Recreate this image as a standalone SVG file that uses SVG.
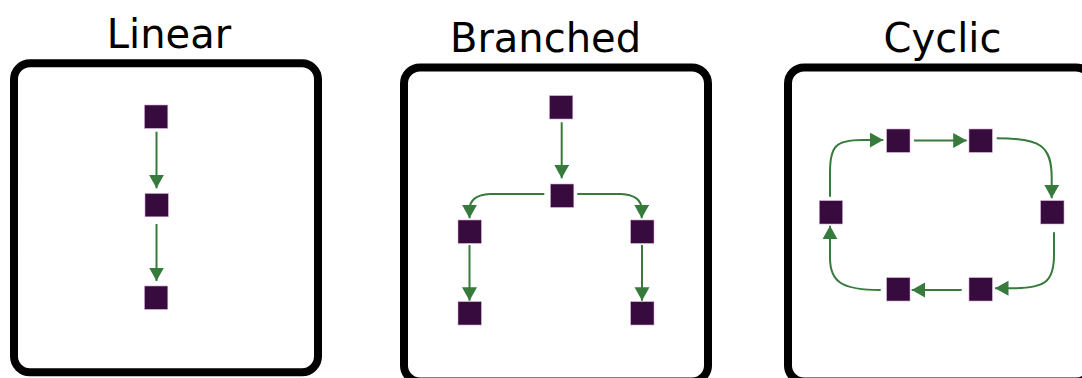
<svg xmlns="http://www.w3.org/2000/svg" width="1082" height="378" viewBox="0 0 1082 378">
<style>
.panel{fill:#fff;stroke:#000;stroke-width:8}
.title{font-family:"DejaVu Sans",Verdana,sans-serif;font-size:40px;fill:#000;text-anchor:middle}
.node{fill:#380b3f;stroke:#c9a6cb;stroke-width:0.6}
.edge{fill:none;stroke:#367a3c;stroke-width:2;marker-end:url(#ah)}
</style>
<defs>
<marker id="ah" markerUnits="userSpaceOnUse" markerWidth="15" markerHeight="16" refX="13.5" refY="7.5" orient="auto" viewBox="0 0 15 16">
<path d="M0,0 L13.5,7.5 L0,15 z" fill="#367a3c"/>
</marker>
</defs>
<rect x="0" y="0" width="1082" height="378" fill="#fff"/>
<g id="panel-linear">
<rect class="panel" x="14" y="63.3" width="304" height="309" rx="16"/>
<text class="title" x="169" y="48.3">Linear</text>
</g>
<g id="panel-branched">
<rect class="panel" x="404" y="67.5" width="304" height="314" rx="16"/>
<text class="title" x="545.5" y="51.7">Branched</text>
</g>
<g id="panel-cyclic">
<rect class="panel" x="788" y="67.5" width="304" height="314" rx="16"/>
<text class="title" x="942.5" y="51.7">Cyclic</text>
</g>
<g id="connectors">
<path class="edge" d="M156.5,131.7 L156.5,188.3"/>
<path class="edge" d="M156.5,224 L156.5,281"/>
<path class="edge" d="M561.7,122.3 L561.7,178.3"/>
<path class="edge" d="M544.3,194 L490,194 Q469.5,195 469.5,210 L469.5,218.3"/>
<path class="edge" d="M577.3,194 L621,194 Q641.7,195 641.7,210 L641.7,218.3"/>
<path class="edge" d="M469.5,245 L469.5,300.7"/>
<path class="edge" d="M642,245 L642,300.7"/>
<path class="edge" d="M914,140.5 L966.7,140.5"/>
<path class="edge" d="M996.7,138.3 C1040,138.3 1051.7,145 1051.7,178 L1051.7,198.3"/>
<path class="edge" d="M1054,232.3 L1054,255 C1054,282 1045,288.3 1012,288.3 L995,288.3"/>
<path class="edge" d="M961.7,290 L911.7,290"/>
<path class="edge" d="M880.7,290 C842,290 830,282 830,258 L830,225.7"/>
<path class="edge" d="M830,196.7 L830,172 C830,146 836,140 862,140 L883.3,140"/>
</g>
<g id="n-linear-1"><rect class="node" x="144.5" y="105" width="23.3" height="23.3"/></g>
<g id="n-linear-2"><rect class="node" x="145" y="193.5" width="23.3" height="23.3"/></g>
<g id="n-linear-3"><rect class="node" x="144.5" y="286" width="23.3" height="23.3"/></g>
<g id="n-branched-top"><rect class="node" x="549.5" y="95.7" width="23.3" height="23.3"/></g>
<g id="n-branched-mid"><rect class="node" x="550.5" y="184" width="23.3" height="23.3"/></g>
<g id="n-branched-left"><rect class="node" x="458" y="220" width="23.3" height="23.3"/></g>
<g id="n-branched-right"><rect class="node" x="630.7" y="220" width="23.3" height="23.3"/></g>
<g id="n-branched-bl"><rect class="node" x="458" y="301.7" width="23.3" height="23.3"/></g>
<g id="n-branched-br"><rect class="node" x="630.7" y="301.7" width="23.3" height="23.3"/></g>
<g id="n-cyclic-tl"><rect class="node" x="886.7" y="129" width="23.3" height="23.3"/></g>
<g id="n-cyclic-tr"><rect class="node" x="969" y="129" width="23.3" height="23.3"/></g>
<g id="n-cyclic-r"><rect class="node" x="1040.7" y="200.7" width="23.3" height="23.3"/></g>
<g id="n-cyclic-br"><rect class="node" x="969" y="277.7" width="23.3" height="23.3"/></g>
<g id="n-cyclic-bl"><rect class="node" x="886.7" y="277.7" width="23.3" height="23.3"/></g>
<g id="n-cyclic-l"><rect class="node" x="819.3" y="200.7" width="23.3" height="23.3"/></g>
</svg>
